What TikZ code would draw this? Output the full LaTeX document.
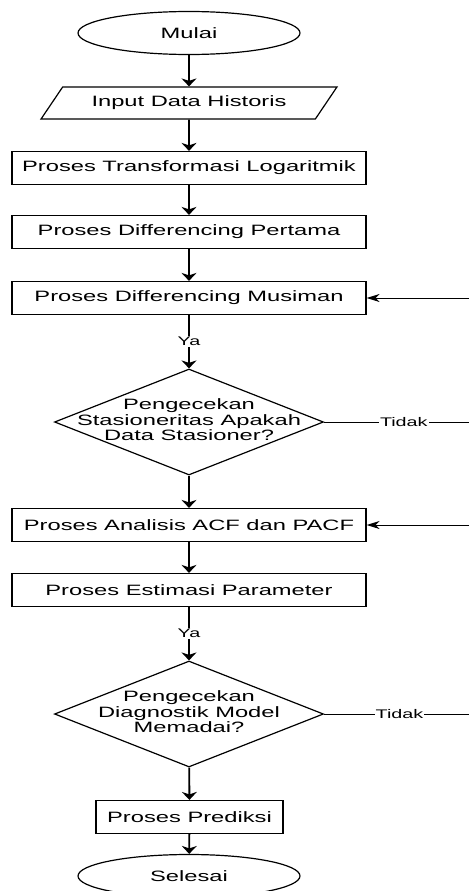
\documentclass[tikz,border=0pt]{standalone}
\usepackage{fontspec}
\usepackage{graphicx}
\setmainfont{Liberation Sans}
\usetikzlibrary{shapes.geometric,arrows.meta}
\newcommand{\wtxt}[1]{\scalebox{1.58}[1]{#1}}

\begin{document}
\begin{tikzpicture}[x=1pt,y=-1pt]
	\tikzstyle{base} = [draw, line width=1.2pt, inner sep=0pt, font=\fontsize{15}{15}\selectfont]
	\tikzstyle{terminal} = [base, ellipse, minimum width=222pt, minimum height=43pt]
	\tikzstyle{io} = [base, trapezium, trapezium left angle=40, trapezium right angle=140, trapezium stretches=true, minimum width=296pt, minimum height=32pt]
	\tikzstyle{proc} = [base, rectangle, minimum width=354pt, minimum height=33pt]
	\tikzstyle{decision} = [base, diamond, minimum width=269pt, minimum height=106pt]
	\tikzstyle{dtext} = [inner sep=0pt, font=\fontsize{15}{15.5}\selectfont]
	\tikzstyle{lbl} = [fill=white, inner sep=1pt, font=\fontsize{12.5}{12.5}\selectfont]
	\tikzstyle{vline} = [line width=1.8pt, -{Stealth[length=8pt,width=15pt,inset=2.5pt]}]
	\tikzstyle{hline} = [line width=1pt]
	\tikzstyle{harrow} = [hline, -{Stealth[length=13pt,width=8pt,inset=4pt]}]

	\useasboundingbox (0,0) rectangle (469,891);
	\clip (0,0) rectangle (469,891);

	\node [terminal] (mulai) at (189,33) {\wtxt{Mulai}};
	\node [io] (input) at (189,103) {\wtxt{Input Data Historis}};
	\node [proc] (trans) at (189,168) {\wtxt{Proses Transformasi Logaritmik}};
	\node [proc] (diff1) at (189,232) {\wtxt{Proses Differencing Pertama}};
	\node [proc] (diff2) at (189,298) {\wtxt{Proses Differencing Musiman}};
	\node [decision] (cek1) at (189,422) {};
	\node [dtext] (cek1txt) at (cek1) {\wtxt{\begin{tabular}{@{}c@{}}Pengecekan\\Stasioneritas Apakah\\Data Stasioner?\end{tabular}}};
	\node [proc] (acf) at (189,525) {\wtxt{Proses Analisis ACF dan PACF}};
	\node [proc] (estim) at (189,590) {\wtxt{Proses Estimasi Parameter}};
	\node [decision] (cek2) at (189,714) {};
	\node [dtext] (cek2txt) at (cek2) {\wtxt{\begin{tabular}{@{}c@{}}Pengecekan\\Diagnostik Model\\Memadai?\end{tabular}}};
	\node [proc, minimum width=187pt] (pred) at (189.5,817) {\wtxt{Proses Prediksi}};
	\node [terminal] (selesai) at (189,876) {\wtxt{Selesai}};

	% ujung garis di tepi kanan
	\coordinate (r1) at (469,298);
	\coordinate (r2) at (469,422);
	\coordinate (r3) at (469,525);
	\coordinate (r4) at (469,714);

	\draw [vline] (mulai) -- (input);
	\draw [vline] (input) -- (trans);
	\draw [vline] (trans) -- (diff1);
	\draw [vline] (diff1) -- (diff2);
	\draw [vline] (diff2) -- (cek1) node [lbl, midway] (ya1) {\wtxt{Ya}};
	\draw [vline] (cek1) -- (acf);
	\draw [vline] (acf) -- (estim);
	\draw [vline] (estim) -- (cek2) node [lbl, midway] (ya2) {\wtxt{Ya}};
	\draw [vline] (cek2) -- (pred);
	\draw [vline] (pred) -- (selesai);

	\draw [hline] (cek1) -- (r2) node [lbl, pos=0.55] (tidak1) {\wtxt{Tidak}};
	\draw [hline] (cek2) -- (r4) node [lbl, pos=0.52] (tidak2) {\wtxt{Tidak}};
	\draw [harrow] (r1) -- (diff2);
	\draw [harrow] (r3) -- (acf);

\end{tikzpicture}
\end{document}
